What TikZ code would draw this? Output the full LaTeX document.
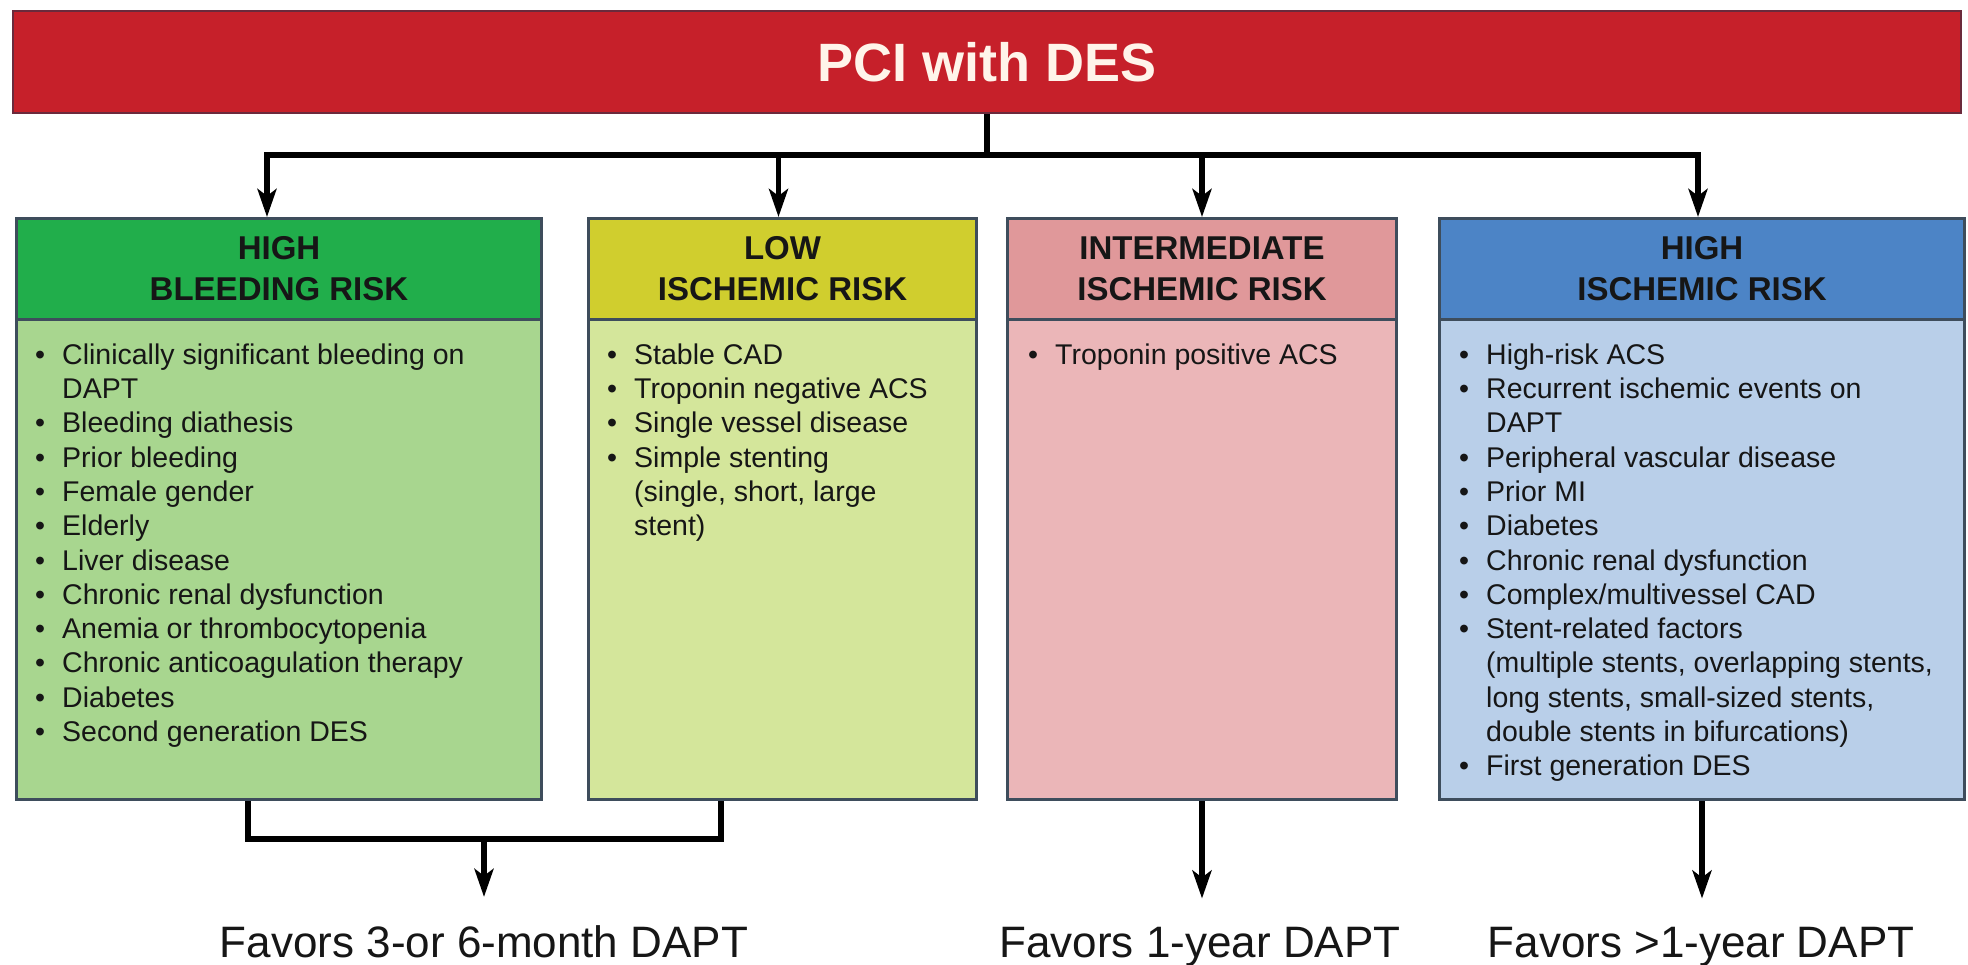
\documentclass[tikz,border=0pt]{standalone}
\usepackage{fontspec}
\setmainfont{Liberation Sans}
\usetikzlibrary{arrows.meta,calc}

\definecolor{titlered}{HTML}{C6202A}
\definecolor{titleedge}{HTML}{6B2A3C}
\definecolor{titleink}{HTML}{FFF4EA}
\definecolor{boxedge}{HTML}{3E4D5C}
\definecolor{ink}{HTML}{161616}
\definecolor{hbrhead}{HTML}{21AE4B}
\definecolor{hbrbody}{HTML}{A8D68F}
\definecolor{lirhead}{HTML}{D0CE2E}
\definecolor{lirbody}{HTML}{D4E69B}
\definecolor{iirhead}{HTML}{E0989A}
\definecolor{iirbody}{HTML}{EBB6B8}
\definecolor{hishead}{HTML}{4C84C6}
\definecolor{hisbody}{HTML}{B9CFE9}

% bullet followed by fixed gap
\newcommand{\bul}{\makebox[27pt][l]{•}}
\newcommand{\cont}{\hspace*{27pt}}

\tikzset{
  titlebar/.style={draw=titleedge, line width=2pt, fill=titlered, text=titleink,
    font=\fontsize{54}{60}\selectfont\bfseries, inner sep=0pt},
  headbox/.style={draw=boxedge, line width=3pt, minimum height=101pt, inner sep=0pt,
    align=center, text=ink, font=\fontsize{33}{41}\selectfont\bfseries},
  bodybox/.style={draw=boxedge, line width=3pt, minimum height=480pt, inner sep=0pt},
  listtext/.style={inner sep=0pt, text=ink, font=\fontsize{28.5}{34.3}\selectfont},
  favor/.style={inner xsep=0pt, inner ysep=28pt, text=ink, font=\fontsize{44}{50}\selectfont, anchor=base},
  wire/.style={line width=5.5pt, draw=black},
  arr/.style={wire, -{Stealth[length=28pt, width=19pt, inset=7pt]}},
}

\begin{document}
\begin{tikzpicture}[x=1pt, y=-1pt]
\useasboundingbox (0,0) rectangle (1968,965);
\fill[white] (0,0) rectangle (1968,965);

% top banner
\node[titlebar, minimum width=1948pt, minimum height=102pt, anchor=north west] (pci) at (12,10) {PCI with DES};

% four risk categories: header + body
\node[headbox, fill=hbrhead, minimum width=525pt, anchor=north west] (hbrH) at (15,217) {HIGH\\BLEEDING RISK};
\node[bodybox, fill=hbrbody, minimum width=525pt, anchor=north west] (hbrB) at (15,318) {};

\node[headbox, fill=lirhead, minimum width=388pt, anchor=north west] (lirH) at (587,217) {LOW\\ISCHEMIC RISK};
\node[bodybox, fill=lirbody, minimum width=388pt, anchor=north west] (lirB) at (587,318) {};

\node[headbox, fill=iirhead, minimum width=389pt, anchor=north west] (iirH) at (1006,217) {INTERMEDIATE\\ISCHEMIC RISK};
\node[bodybox, fill=iirbody, minimum width=389pt, anchor=north west] (iirB) at (1006,318) {};

\node[headbox, fill=hishead, minimum width=525pt, anchor=north west] (hisH) at (1438,217) {HIGH\\ISCHEMIC RISK};
\node[bodybox, fill=hisbody, minimum width=525pt, anchor=north west] (hisB) at (1438,318) {};

% bullet lists
\node[listtext, anchor=north west] (hbrL) at ($(hbrB.north west)+(20,22)$) {%
\begin{tabular}{@{}l@{}}
\bul Clinically significant bleeding on\\
\cont DAPT\\
\bul Bleeding diathesis\\
\bul Prior bleeding\\
\bul Female gender\\
\bul Elderly\\
\bul Liver disease\\
\bul Chronic renal dysfunction\\
\bul Anemia or thrombocytopenia\\
\bul Chronic anticoagulation therapy\\
\bul Diabetes\\
\bul Second generation DES
\end{tabular}};

\node[listtext, anchor=north west] (lirL) at ($(lirB.north west)+(20,22)$) {%
\begin{tabular}{@{}l@{}}
\bul Stable CAD\\
\bul Troponin negative ACS\\
\bul Single vessel disease\\
\bul Simple stenting\\
\cont (single, short, large\\
\cont stent)
\end{tabular}};

\node[listtext, anchor=north west] (iirL) at ($(iirB.north west)+(22,22)$) {%
\begin{tabular}{@{}l@{}}
\bul Troponin positive ACS
\end{tabular}};

\node[listtext, anchor=north west] (hisL) at ($(hisB.north west)+(21,22)$) {%
\begin{tabular}{@{}l@{}}
\bul High-risk ACS\\
\bul Recurrent ischemic events on\\
\cont DAPT\\
\bul Peripheral vascular disease\\
\bul Prior MI\\
\bul Diabetes\\
\bul Chronic renal dysfunction\\
\bul Complex/multivessel CAD\\
\bul Stent-related factors\\
\cont (multiple stents, overlapping stents,\\
\cont long stents, small-sized stents,\\
\cont double stents in bifurcations)\\
\bul First generation DES
\end{tabular}};

% outcome labels
\node[favor] (fav1) at (484,957) {Favors 3-or 6-month DAPT};
\node[favor] (fav2) at (1200,957) {Favors 1-year DAPT};
\node[favor] (fav3) at (1701,957) {Favors >1-year DAPT};

% distribution bus from the banner
\coordinate (busL) at (267,155);
\coordinate (busR) at (1698,155);
\draw[wire] (pci.south) -- (pci.south |- busL);
\draw[arr] (pci.south |- busL) -- (busL) -- (busL |- hbrH.north);
\draw[arr] (pci.south |- busL) -- (busR) -- (busR |- hisH.north);
\draw[arr] ($(lirH.north |- busL)+(-4,0)$) -- ($(lirH.north)+(-4,0)$);
\draw[arr] (iirH.north |- busL) -- (iirH.north);

% bracket joining the first two categories
\coordinate (brkL) at (248,839);
\coordinate (brkR) at (721,839);
\draw[wire] (brkL |- hbrB.south) -- (brkL) -- (brkR) -- (brkR |- lirB.south);
\draw[arr] (fav1.north |- brkL) -- (fav1.north);
\draw[arr] (iirB.south) -- (iirB.south |- fav2.north);
\draw[arr] (hisB.south) -- (hisB.south |- fav3.north);
\end{tikzpicture}
\end{document}
